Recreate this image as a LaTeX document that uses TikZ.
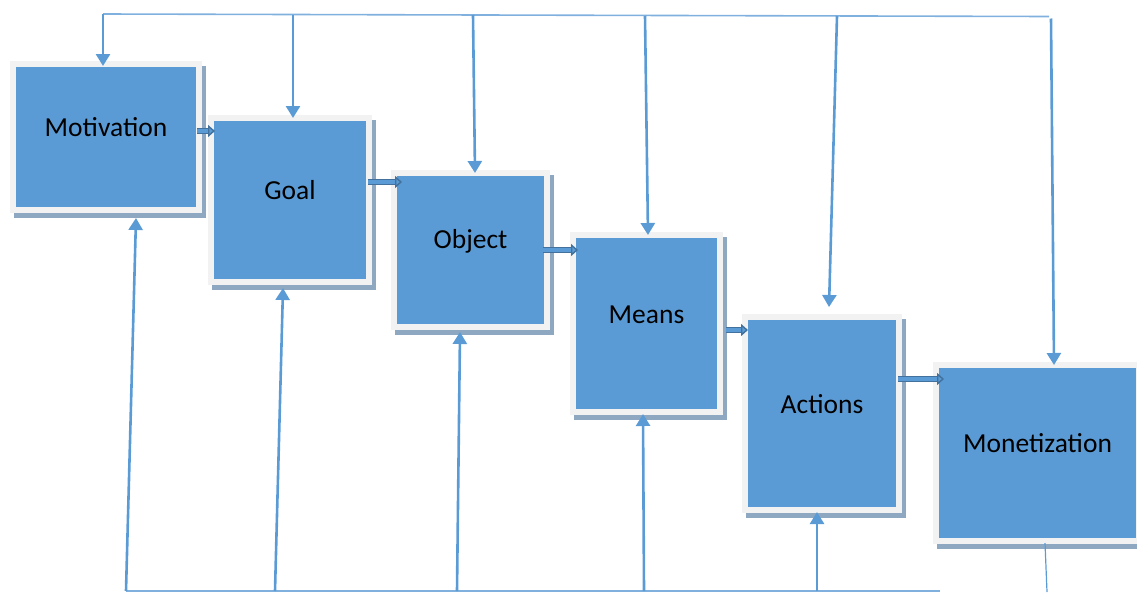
\documentclass[tikz,border=0pt]{standalone}
\usepackage{fontspec}
\setmainfont{Carlito}
\usetikzlibrary{arrows.meta,shadows}
\definecolor{mblue}{HTML}{5B9BD5}
\definecolor{dkblue}{HTML}{41719C}
\definecolor{frame}{HTML}{F2F2F2}
\definecolor{shad}{HTML}{8EA8C1}
\definecolor{topln}{HTML}{7FB0DE}
\begin{document}
\begin{tikzpicture}[x=1pt,y=-1pt,
  box/.style={draw=frame, fill=mblue, line width=6pt, outer sep=0pt, inner sep=0pt,
    drop shadow={shadow xshift=3.5pt, shadow yshift=-5pt, fill=shad, draw=shad, line width=6pt, opacity=1}},
  lbl/.style={font=\fontsize{27.5}{32}\selectfont, text=black, inner sep=0pt},
  fb/.style={draw=mblue, line width=2.6pt, -{Triangle[length=12pt,width=14pt]}},
  fbline/.style={draw=mblue, line width=1.6pt},
  blk/.style={draw=dkblue, line width=1.4pt, double=mblue, double distance=3.8pt,
    -{Triangle[length=7pt,width=12pt,fill=mblue]}}]
\useasboundingbox (0,0) rectangle (1137,592);
% boxes
\node[box, minimum width=186pt, minimum height=146pt] (mot) at (106,137) {};
\node[box, minimum width=158pt, minimum height=164pt] (goal) at (290,200) {};
\node[box, minimum width=153pt, minimum height=154pt] (obj) at (470.5,250) {};
\node[box, minimum width=147pt, minimum height=177pt] (means) at (646.5,323.5) {};
\node[box, minimum width=154pt, minimum height=193pt] (act) at (822,413.5) {};
\node[box, minimum width=203pt, minimum height=176pt] (mon) at (1037.5,453) {};
% labels
\node[lbl] (tmot) at ([yshift=10pt]mot.center) {Motivation};
\node[lbl] (tgoal) at ([yshift=10pt]goal.center) {Goal};
\node[lbl] (tobj) at ([yshift=9pt]obj.center) {Object};
\node[lbl] (tmeans) at ([yshift=8.5pt]means.center) {Means};
\node[lbl] (tact) at ([yshift=9.5pt]act.center) {Actions};
\node[lbl] (tmon) at ([yshift=10pt]mon.center) {Monetization};
% top feedback line
\coordinate (t1) at (103,14);
\coordinate (t2) at (293,15);
\coordinate (t3) at (473,15);
\coordinate (t4) at (645,16);
\coordinate (t5) at (837,16);
\coordinate (t6) at (1049,16.5);
\draw[fbline, topln] (t1) -- (t6);
\draw[fb] (t1) -- ([xshift=-3pt,yshift=-2pt]mot.north);
\draw[fb] (t2) -- ([xshift=3pt]goal.north);
\draw[fb] (t3) -- ([xshift=4.5pt]obj.north);
\draw[fb] (t4) -- ([xshift=1.5pt]means.north);
\draw[fb] (t5) -- ([xshift=7pt,yshift=10pt]act.north);
\draw[fb] ([xshift=2pt,yshift=-2pt]t6) -- ([xshift=16.5pt]mon.north);
% bottom feedback line
\coordinate (b1) at (126,591);
\coordinate (b2) at (275,591);
\coordinate (b3) at (457,591);
\coordinate (b4) at (644,591);
\coordinate (b5) at (817,591);
\coordinate (b6) at (940,591);
\coordinate (b7) at (1047,592);
\draw[fbline, topln] (b1) -- (b6);
\draw[fb] (b1) -- ([xshift=30pt,yshift=-8pt]mot.south);
\draw[fb] (b2) -- ([xshift=-7pt,yshift=-6pt]goal.south);
\draw[fb] (b3) -- ([xshift=-10.5pt,yshift=-5pt]obj.south);
\draw[fb] (b4) -- ([xshift=-3.5pt,yshift=-2pt]means.south);
\draw[fb] (b5) -- ([xshift=-5pt,yshift=-2pt]act.south);
\draw[mblue, line width=1.2pt] ([xshift=7.5pt,yshift=-2pt]mon.south) -- (b7);
% forward block arrows
\draw[blk] ([xshift=-2pt,yshift=6pt]mot.east) -- ([xshift=4pt,yshift=69pt]goal.west);
\draw[blk] ([xshift=-1pt,yshift=18pt]goal.east) -- ([xshift=8pt,yshift=68pt]obj.west);
\draw[blk] ([xshift=-4pt]obj.east) -- ([xshift=5pt,yshift=73.5pt]means.west);
\draw[blk] ([xshift=6pt,yshift=-6.5pt]means.east) -- ([xshift=3pt,yshift=83.5pt]act.west);
\draw[blk] ([xshift=-1pt,yshift=34.5pt]act.east) -- ([xshift=8pt,yshift=74pt]mon.west);
\end{tikzpicture}
\end{document}
